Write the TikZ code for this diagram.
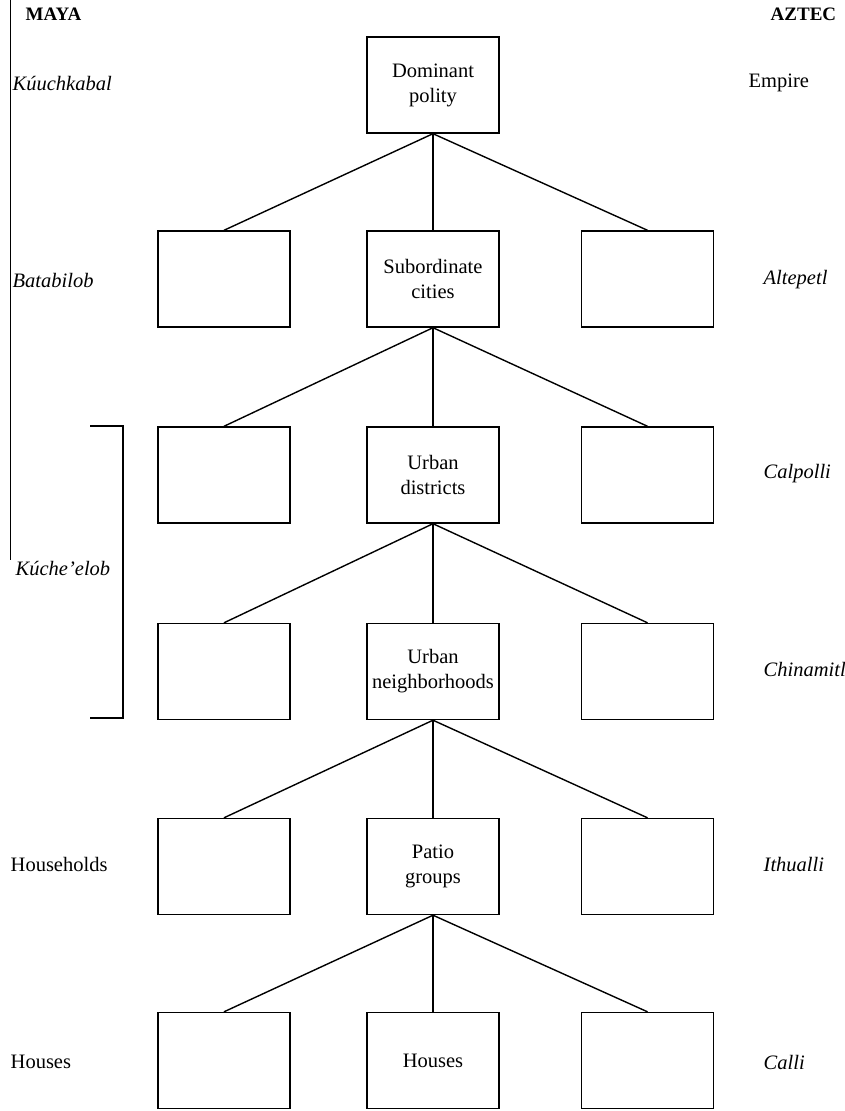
\documentclass[tikz,border=0pt]{standalone}
\usepackage{fontspec}
\setmainfont{Liberation Serif}
\begin{document}
\begin{tikzpicture}[x=1pt,y=-1pt,line width=1.4pt,
    unit/.style={draw,black,rectangle,minimum width=132pt,minimum height=96pt,align=center,font=\fontsize{20.5}{25}\selectfont},
    lab/.style={anchor=west,inner sep=0pt,font=\fontsize{20.5}{25}\selectfont},
    head/.style={anchor=west,inner sep=0pt,font=\fontsize{19}{22}\selectfont\bfseries}]
    \useasboundingbox (0,0) rectangle (845,1111);
    % center column
    \node[unit] (c1) at (433,85)     {Dominant\\polity};
    \node[unit] (c2) at (433,279)    {Subordinate\\cities};
    \node[unit] (c3) at (433,475)    {Urban\\districts};
    \node[unit] (c4) at (433,671.5)  {Urban\\neighborhoods};
    \node[unit] (c5) at (433,866.5)  {Patio\\groups};
    \node[unit] (c6) at (433,1060.5) {Houses};
    % side boxes
    \node[unit] (l2) at (224,279)    {};
    \node[unit] (l3) at (224,475)    {};
    \node[unit] (l4) at (224,671.5)  {};
    \node[unit] (l5) at (224,866.5)  {};
    \node[unit] (l6) at (224,1060.5) {};
    \node[unit] (r2) at (647.5,279)    {};
    \node[unit] (r3) at (647.5,475)    {};
    \node[unit] (r4) at (647.5,671.5)  {};
    \node[unit] (r5) at (647.5,866.5)  {};
    \node[unit] (r6) at (647.5,1060.5) {};
    \path[draw]%
      (c1.south) edge (l2.north) (c1.south) edge (c2.north) (c1.south) edge (r2.north)
      (c2.south) edge (l3.north) (c2.south) edge (c3.north) (c2.south) edge (r3.north)
      (c3.south) edge (l4.north) (c3.south) edge (c4.north) (c3.south) edge (r4.north)
      (c4.south) edge (l5.north) (c4.south) edge (c5.north) (c4.south) edge (r5.north)
      (c5.south) edge (l6.north) (c5.south) edge (c6.north) (c5.south) edge (r6.north);
    % Maya terms
    \node[head] (maya) at (25,14) {MAYA};
    \node[lab] (m1) at (12,83)   {\itshape Kúuchkabal};
    \node[lab] (m2) at (12,280)  {\itshape Batabilob};
    \node[lab] (m3) at (15,568)  {\itshape Kúche'elob};
    \node[lab] (m5) at (10,864)  {Households};
    \node[lab] (m6) at (10,1062) {Houses};
    % Aztec terms
    \node[head] (aztec) at (770,14) {AZTEC};
    \node[lab] (a1) at (748,83)   {Empire};
    \node[lab] (a2) at (763,280)  {\itshape Altepetl};
    \node[lab] (a3) at (763,474)  {\itshape Calpolli};
    \node[lab] (a4) at (763,669)  {\itshape Chinamitl};
    \node[lab] (a5) at (763,864)  {\itshape Ithualli};
    \node[lab] (a6) at (763,1062) {\itshape Calli};
    % span marks
    \coordinate (sTop) at (10,0);
    \coordinate (sBot) at (10,560);
    \draw[line width=0.8pt] (sTop) -- (sBot);
    \coordinate (bTop) at (90,426);
    \coordinate (bBot) at (90,718);
    \draw (bTop) -- (123,426) -- (123,718) -- (bBot);
\end{tikzpicture}
\end{document}
